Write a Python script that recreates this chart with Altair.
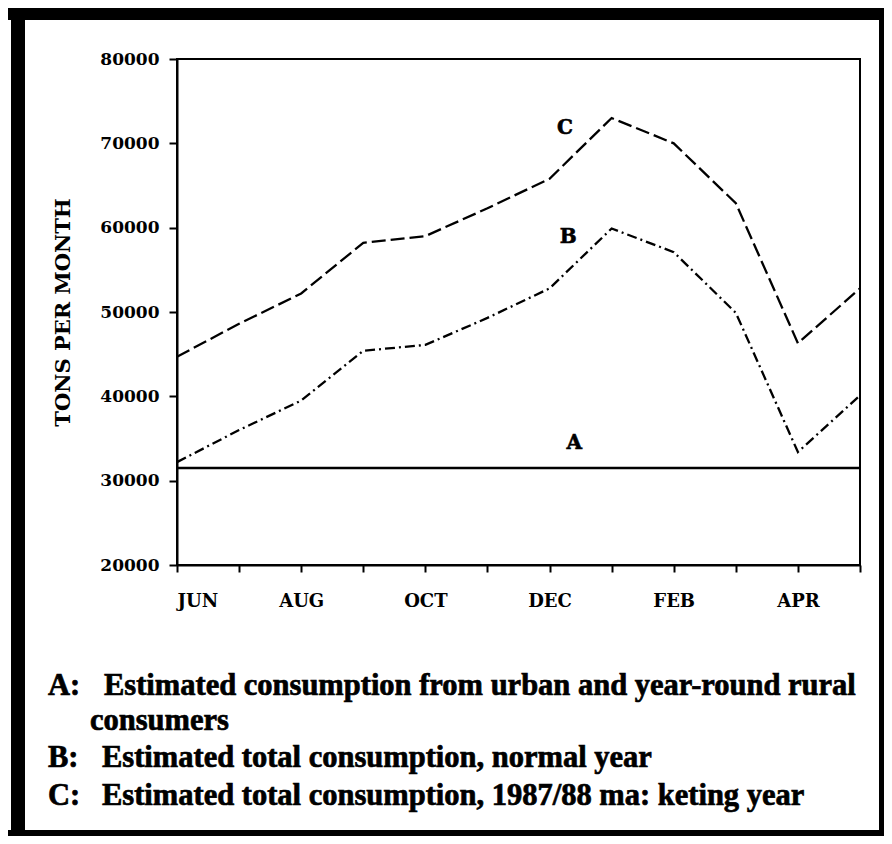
import json
import altair as alt
import pandas as pd

# ---- data ----
months = ["JUN", "JUL", "AUG", "SEP", "OCT", "NOV", "DEC", "JAN", "FEB", "MAR", "APR", "MAY"]
shown_months = ["JUN", "AUG", "OCT", "DEC", "FEB", "APR"]
series_a = [31500, 31500, 31500, 31500, 31500, 31500, 31500, 31500, 31500, 31500, 31500, 31500]
series_b = [32200, 36000, 39500, 45400, 46100, 49300, 52800, 59900, 57100, 49900, 33400, 40100]
series_c = [44700, 48600, 52200, 58200, 59000, 62300, 65800, 73000, 70000, 62900, 46300, 52800]
y_ticks = [20000, 30000, 40000, 50000, 60000, 70000, 80000]

curve_names = ["A", "B", "C"]
curve_label_x = [6.4, 6.3, 6.25]          # month index where the letter sits
curve_label_y = [34450, 58900, 71800]

legend_keys = ["A:", "B:", "C:"]
legend_lines = [
    "Estimated consumption from urban and year-round rural",
    "consumers",
    "Estimated total consumption, normal year",
    "Estimated total consumption, 1987/88 ma: keting year",
]
y_title = "TONS PER MONTH"

rows = []
for name, vals in zip(curve_names, [series_a, series_b, series_c]):
    for i, v in enumerate(vals):
        rows.append({"idx": i, "month": months[i], "value": v, "series": name})
df = pd.DataFrame(rows)

lab_df = pd.DataFrame({"name": curve_names, "x": curve_label_x, "y": curve_label_y})
one = pd.DataFrame({"k": [0]})

label_expr = (
    "indexof(" + json.dumps(shown_months) + ", " + json.dumps(months)
    + "[datum.value]) >= 0 ? " + json.dumps(months) + "[datum.value] : ''"
)

AXFONT = "DejaVu Serif"

x_enc = alt.X(
    "idx:Q",
    scale=alt.Scale(domain=[0, 11], nice=False, zero=False),
    axis=alt.Axis(
        values=list(range(12)), labelExpr=label_expr, title=None, grid=False,
        tickSize=7, tickWidth=2, tickColor="black", domainColor="black", domainWidth=2,
        labelFont=AXFONT, labelFontSize=18, labelFontWeight="bold", labelColor="black",
        labelPadding=20, labelAngle=0,
    ),
)
y_enc = alt.Y(
    "value:Q",
    scale=alt.Scale(domain=[20000, 80000], nice=False, zero=False),
    axis=alt.Axis(
        values=y_ticks, format="d", title=y_title, grid=False,
        tickSize=8, tickWidth=2, tickColor="black", domainColor="black", domainWidth=2,
        labelFont=AXFONT, labelFontSize=17, labelFontWeight="bold", labelColor="black",
        labelPadding=10,
        titleFont=AXFONT, titleFontSize=21, titleFontWeight="bold", titleColor="black",
        titlePadding=26,
    ),
)

base = alt.Chart(df).encode(x=x_enc, y=y_enc)

line_a = base.transform_filter(alt.datum.series == "A").mark_line(
    color="black", strokeWidth=2.5)
line_b = base.transform_filter(alt.datum.series == "B").mark_line(
    color="black", strokeWidth=2.3, strokeDash=[10, 4, 2, 4])
line_c = base.transform_filter(alt.datum.series == "C").mark_line(
    color="black", strokeWidth=2.3, strokeDash=[14, 5])

curve_labels = alt.Chart(lab_df).mark_text(
    font=AXFONT, fontSize=20, fontWeight="bold", color="black",
    stroke="black", strokeWidth=0.6,
).encode(x=alt.X("x:Q"), y=alt.Y("y:Q"), text="name:N")

LEG_FONT = "Liberation Serif"
LEG_SIZE = 30.5


def text_layer(txt, xx, yy):
    return alt.Chart(pd.DataFrame({"t": [txt]})).mark_text(
        font=LEG_FONT, fontSize=LEG_SIZE, fontWeight="bold",
        color="black", stroke="black", strokeWidth=0.7,
        align="left", baseline="alphabetic",
    ).encode(text="t:N", x=alt.value(xx), y=alt.value(yy))


legend_layers = []
key_y = [636, 708, 746]
for k, yy in zip(legend_keys, key_y):
    legend_layers.append(text_layer(k, -129, yy))
body_pos = [(-73, 636), (-87, 671), (-75, 708), (-75, 746)]
for txt, (xx, yy) in zip(legend_lines, body_pos):
    legend_layers.append(text_layer(txt, xx, yy))

# scanned page frame
frame = [
    alt.Chart(one).mark_rule(color="black", strokeWidth=14).encode(
        x=alt.value(-159), y=alt.value(-51), y2=alt.value(777)),
    alt.Chart(one).mark_rule(color="black", strokeWidth=12).encode(
        x=alt.value(-169), x2=alt.value(707), y=alt.value(-45)),
    alt.Chart(one).mark_rule(color="black", strokeWidth=5).encode(
        x=alt.value(704.5), y=alt.value(-51), y2=alt.value(777)),
    alt.Chart(one).mark_rule(color="black", strokeWidth=6).encode(
        x=alt.value(-169), x2=alt.value(707), y=alt.value(774)),
]

chart = alt.layer(line_a, line_b, line_c, curve_labels, *legend_layers, *frame).properties(
    width=683, height=506,
    autosize=alt.AutoSizeParams(type="none"),
    padding={"left": 169, "top": 51, "right": 24, "bottom": 271},
    background="white",
).configure_view(stroke="black", strokeWidth=2)

chart.save("out.html", embed_options={"renderer": "svg", "actions": False})
